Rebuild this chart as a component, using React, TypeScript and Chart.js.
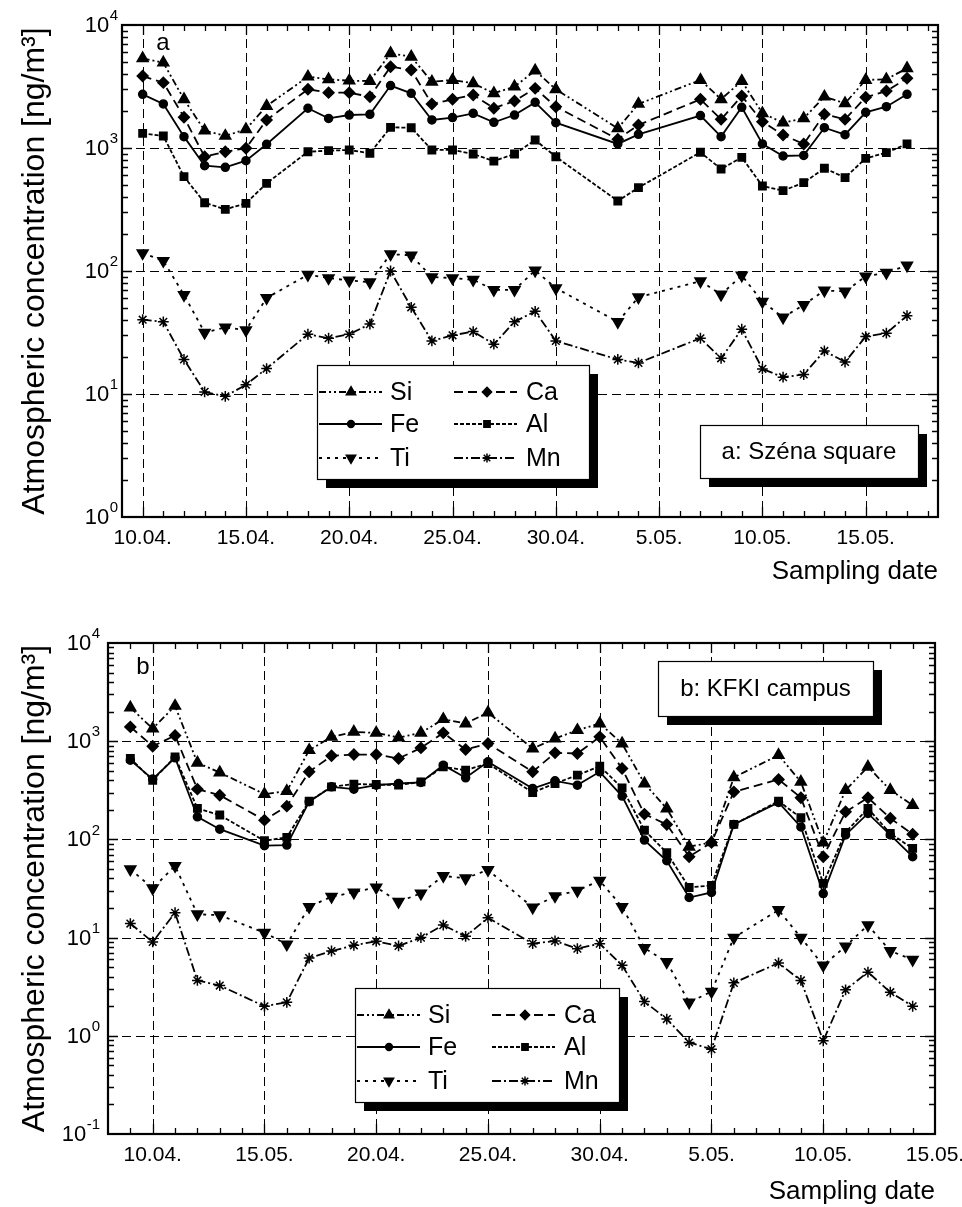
import React, { useEffect, useRef } from 'react';
import { Chart, registerables } from 'chart.js';
import { drawPoint } from 'chart.js/helpers';

Chart.register(...registerables);

const FONT = "'Liberation Sans', Arial, Helvetica, sans-serif";

const ELEMENTS = ['Si', 'Ca', 'Fe', 'Al', 'Ti', 'Mn'];

// ---------- Panel a: Széna square (day 0 = 10.04.) ----------
const daysA = [0, 1, 2, 3, 4, 5, 6, 8, 9, 10, 11, 12, 13, 14, 15, 16, 17, 18, 19, 20, 23, 24, 27, 28, 29, 30, 31, 32, 33, 34, 35, 36, 37];
const siA = [5360, 4940, 2490, 1384, 1253, 1419, 2195, 3800, 3617, 3524, 3506, 5890, 5520, 3457, 3573, 3357, 2785, 3155, 4257, 3000, 1445, 2280, 3573, 2490, 3506, 1914, 1608, 1741, 2612, 2307, 3573, 3617, 4448];
const caA = [3846, 3398, 1778, 849, 933, 994, 1691, 3000, 2818, 2818, 2612, 4580, 4305, 2280, 2490, 2699, 2105, 2411, 3055, 2168, 1178, 1537, 2490, 1710, 2648, 1636, 1277, 1079, 1878, 1710, 2584, 2903, 3687];
const feA = [2731, 2280, 1237, 718, 697, 789, 1072, 2105, 1741, 1854, 1878, 3217, 2785, 1691, 1766, 1914, 1617, 1854, 2350, 1608, 1079, 1292, 1834, 1237, 2143, 1079, 861, 871, 1462, 1283, 1950, 2168, 2731];
const alA = [1316, 1253, 585, 359, 317, 355, 516, 933, 951, 964, 906, 1472, 1462, 964, 964, 893, 783, 893, 1161, 849, 371, 476, 923, 675, 840, 491, 450, 523, 684, 575, 824, 916, 1079];
const tiA = [140, 121, 64, 31.6, 34.8, 33.1, 60.4, 93.3, 87.6, 83.9, 81.2, 137, 134, 89.3, 87.6, 84.9, 70.3, 70.3, 101, 72.6, 38.6, 61.2, 82.8, 64.4, 92.1, 56.4, 42.0, 53.0, 69.5, 68.1, 90.4, 96.9, 111];
const mnA = [40.2, 38.6, 19.1, 10.4, 9.57, 11.9, 16.1, 30.6, 28.4, 30.6, 37.0, 100, 50.7, 27.0, 30.0, 32.2, 25.4, 38.6, 47.0, 27.0, 19.1, 17.9, 28.4, 19.5, 33.6, 16.0, 13.7, 14.4, 22.4, 18.2, 29.3, 31.2, 43.3];

// ---------- Panel b: KFKI campus (day 0 = 10.04.) ----------
const daysB = [-1, 0, 1, 2, 3, 5, 6, 7, 8, 9, 10, 11, 12, 13, 14, 15, 17, 18, 19, 20, 21, 22, 23, 24, 25, 26, 28, 29, 30, 31, 32, 33, 34];
const siB = [2198, 1345, 2286, 603, 480, 289, 310, 810, 1107, 1244, 1215, 1090, 1215, 1675, 1513, 1958, 842, 1065, 1294, 1513, 947, 371, 206, 84.2, 93.1, 428, 721, 385, 92.5, 318, 548, 318, 223];
const caB = [1399, 889, 1142, 325, 282, 157, 218, 488, 710, 731, 731, 667, 855, 1215, 822, 947, 488, 761, 749, 1107, 527, 181, 142, 66.7, 93, 305, 408, 266, 66.7, 191, 266, 164, 113];
const feB = [641, 411, 678, 170, 127, 86.3, 87.5, 242, 343, 325, 357, 371, 380, 570, 424, 617, 330, 395, 357, 488, 276, 98.4, 60.6, 25.6, 28.8, 142, 238, 134, 28.1, 111, 184, 111, 66.7];
const alB = [667, 400, 693, 207, 177, 96.8, 105, 245, 343, 366, 362, 357, 385, 548, 507, 593, 300, 371, 451, 557, 335, 124, 73.1, 32.4, 34, 142, 245, 166, 35.6, 118, 207, 115, 81];
const tiB = [49.7, 31.8, 53.7, 17.3, 16.9, 11.2, 8.55, 20.6, 26.1, 28.9, 32.5, 23.2, 28.2, 42.5, 40.2, 48.9, 20.3, 26.5, 30.1, 38.0, 20.6, 7.84, 5.64, 2.19, 2.82, 10, 19.1, 10, 5.22, 8.15, 13.4, 7.3, 5.96];
const mnB = [13.9, 9.03, 17.9, 3.66, 3.25, 2.0, 2.19, 6.19, 7.3, 8.35, 9.17, 8.22, 10, 13.4, 10.3, 15.9, 8.68, 9.24, 7.72, 8.68, 5.22, 2.23, 1.48, 0.855, 0.73, 3.46, 5.51, 3.66, 0.89, 2.94, 4.45, 2.78, 2.0];

// ---------- Axis ticks ----------
const xTickDays = [0, 5, 10, 15, 20, 25, 30, 35];
const xLabelsA = ['10.04.', '15.04.', '20.04.', '25.04.', '30.04.', '5.05.', '10.05.', '15.05.'];
const xLabelsB = ['10.04.', '15.05.', '20.04.', '25.04.', '30.04.', '5.05.', '10.05.', '15.05.'];
const yDecadesA = [1, 10, 100, 1000, 10000];
const yDecadesB = [0.1, 1, 10, 100, 1000, 10000];

const STYLE: Record<string, any> = {
  Si: { dash: [7, 3, 2, 3, 2, 3], point: 'triangle', rot: 0, r: 6.3 },
  Ca: { dash: [9, 5], point: 'rectRot', rot: 0, r: 5.4 },
  Fe: { dash: [], point: 'circle', rot: 0, r: 4 },
  Al: { dash: [4, 2], point: 'rect', rot: 0, r: 5.2 },
  Ti: { dash: [3, 5], point: 'triangle', rot: 180, r: 6.3 },
  Mn: { dash: [9, 3, 2, 3], point: 'star', rot: 0, r: 5.4 },
};

const panelA = {
  days: daysA, series: [siA, caA, feA, alA, tiA, mnA],
  xMin: -1, xMax: 38.5, yMin: 1, yMax: 10000, xLabels: xLabelsA, yTicks: yDecadesA,
  height: 590, padTop: 25, padRight: 24, yWidth: 122, yTickPad: 4, xTitlePad: 3,
  legend: { x: 317, y: 365, w: 272, h: 114 },
  note: { x: 700, y: 425, w: 218, h: 53, text: 'a: Széna square' },
  letter: { x: 163, y: 43, text: 'a' },
};

const panelB = {
  days: daysB, series: [siB, caB, feB, alB, tiB, mnB],
  xMin: -2, xMax: 35, yMin: 0.1, yMax: 10000, xLabels: xLabelsB, yTicks: yDecadesB,
  height: 617, padTop: 53, padRight: 27, yWidth: 108, yTickPad: 8, xTitlePad: 0,
  legend: { x: 355, y: 398, w: 264, h: 114 },
  note: { x: 658, y: 71, w: 215, h: 55, text: 'b: KFKI campus' },
  letter: { x: 143, y: 77, text: 'b' },
};

const decorPlugin = {
  id: 'decor',
  beforeDatasetsDraw(chart: any, _args: any, opts: any) {
    const { ctx, chartArea: a, scales } = chart;
    const x = scales.x, y = scales.y;
    ctx.save();
    ctx.strokeStyle = '#000';
    ctx.lineWidth = 1;
    ctx.setLineDash([9, 5]);
    for (const v of opts.xGrid) {
      const px = Math.round(x.getPixelForValue(v)) + 0.5;
      if (px <= a.left + 1 || px >= a.right - 1) continue;
      ctx.beginPath(); ctx.moveTo(px, a.top); ctx.lineTo(px, a.bottom); ctx.stroke();
    }
    for (const v of opts.yGrid) {
      const py = Math.round(y.getPixelForValue(v)) + 0.5;
      if (py <= a.top + 1 || py >= a.bottom - 1) continue;
      ctx.beginPath(); ctx.moveTo(a.left, py); ctx.lineTo(a.right, py); ctx.stroke();
    }
    ctx.restore();
  },
  afterDatasetsDraw(chart: any, _args: any, opts: any) {
    const { ctx, chartArea: a, scales } = chart;
    const x = scales.x, y = scales.y;
    ctx.save();
    ctx.strokeStyle = '#000';
    ctx.fillStyle = '#000';
    ctx.setLineDash([]);
    ctx.lineWidth = 1.3;
    // x ticks (inward, top and bottom)
    for (let d = Math.ceil(x.min); d <= Math.floor(x.max); d++) {
      const px = Math.round(x.getPixelForValue(d)) + 0.5;
      if (px <= a.left + 1 || px >= a.right - 1) continue;
      const len = d % 5 === 0 ? 10 : 6;
      ctx.beginPath();
      ctx.moveTo(px, a.bottom); ctx.lineTo(px, a.bottom - len);
      ctx.moveTo(px, a.top); ctx.lineTo(px, a.top + len);
      ctx.stroke();
    }
    // y ticks (log minor)
    const e0 = Math.round(Math.log10(y.min));
    const e1 = Math.round(Math.log10(y.max));
    for (let e = e0; e < e1; e++) {
      for (let m = 1; m <= 9; m++) {
        const v = m * Math.pow(10, e);
        const py = Math.round(y.getPixelForValue(v)) + 0.5;
        if (py <= a.top + 1 || py >= a.bottom - 1) continue;
        const len = m === 1 ? 10 : 6;
        ctx.beginPath();
        ctx.moveTo(a.left, py); ctx.lineTo(a.left + len, py);
        ctx.moveTo(a.right, py); ctx.lineTo(a.right - len, py);
        ctx.stroke();
      }
    }
    // frame
    ctx.lineWidth = 2.2;
    ctx.strokeRect(a.left, a.top, a.right - a.left, a.bottom - a.top);

    // y tick labels: 10 with raised exponent
    for (const v of opts.yGrid) {
      const py = y.getPixelForValue(v);
      const exp = String(Math.round(Math.log10(v)));
      ctx.textBaseline = 'middle';
      ctx.textAlign = 'left';
      ctx.font = `15px ${FONT}`;
      const we = ctx.measureText(exp).width;
      const xEnd = a.left - opts.yTickPad;
      ctx.fillText(exp, xEnd - we, py - 9);
      ctx.font = `22px ${FONT}`;
      ctx.textAlign = 'right';
      ctx.fillText('10', xEnd - we - 0.5, py + 1);
    }

    // letter
    ctx.font = `24px ${FONT}`;
    ctx.textBaseline = 'middle';
    ctx.textAlign = 'center';
    ctx.fillText(opts.letter.text, opts.letter.x, opts.letter.y);

    // note box
    const n = opts.note;
    ctx.fillStyle = '#000';
    ctx.fillRect(n.x + 9, n.y + 9, n.w, n.h);
    ctx.fillStyle = '#fff';
    ctx.fillRect(n.x, n.y, n.w, n.h);
    ctx.lineWidth = 1.2;
    ctx.strokeRect(n.x + 0.5, n.y + 0.5, n.w, n.h);
    ctx.fillStyle = '#000';
    ctx.fillText(n.text, n.x + n.w / 2, n.y + n.h / 2 + 1);

    // legend
    const L = opts.legend;
    ctx.fillRect(L.x + 9, L.y + 9, L.w, L.h);
    ctx.fillStyle = '#fff';
    ctx.fillRect(L.x, L.y, L.w, L.h);
    ctx.strokeRect(L.x + 0.5, L.y + 0.5, L.w, L.h);
    const rows = [27, 59, 93];
    const cols = [
      { l0: 2, l1: 65, m: 34, t: 73 },
      { l0: 137, l1: 200, m: 170, t: 209 },
    ];
    chart.data.datasets.forEach((ds: any, i: number) => {
      const c = cols[i % 2];
      const ry = L.y + rows[Math.floor(i / 2)];
      ctx.strokeStyle = '#000';
      ctx.fillStyle = '#000';
      ctx.lineWidth = ds.borderWidth;
      ctx.setLineDash(ds.borderDash || []);
      ctx.beginPath();
      ctx.moveTo(L.x + c.l0, ry); ctx.lineTo(L.x + c.l1, ry);
      ctx.stroke();
      ctx.setLineDash([]);
      ctx.lineWidth = ds.pointBorderWidth;
      drawPoint(ctx, { pointStyle: ds.pointStyle, rotation: ds.pointRotation, radius: ds.pointRadius * 0.85, borderWidth: ds.pointBorderWidth } as any, L.x + c.m, ry);
      ctx.textAlign = 'left';
      ctx.textBaseline = 'middle';
      ctx.font = `25px ${FONT}`;
      ctx.fillText(ds.label, L.x + c.t, ry + 1);
    });
    ctx.restore();
  },
};

function buildConfig(p: any): any {
  const datasets = ELEMENTS.map((el, i) => ({
    label: el,
    data: p.days.map((d: number, j: number) => ({ x: d, y: p.series[i][j] })),
    borderColor: '#000',
    backgroundColor: '#000',
    borderWidth: 1.8,
    borderDash: STYLE[el].dash,
    pointStyle: STYLE[el].point,
    pointRotation: STYLE[el].rot,
    pointRadius: STYLE[el].r,
    pointBackgroundColor: '#000',
    pointBorderColor: '#000',
    pointBorderWidth: 1.5,
    tension: 0,
    fill: false,
  }));
  return {
    type: 'line',
    data: { datasets },
    plugins: [decorPlugin],
    options: {
      responsive: false,
      animation: false,
      devicePixelRatio: 1,
      layout: { padding: { left: 0, top: p.padTop, right: p.padRight, bottom: 0 } },
      plugins: {
        legend: { display: false },
        tooltip: { enabled: false },
        decor: {
          xGrid: xTickDays,
          yGrid: p.yTicks,
          yTickPad: p.yTickPad,
          legend: p.legend,
          note: p.note,
          letter: p.letter,
        },
      },
      scales: {
        x: {
          type: 'linear',
          min: p.xMin,
          max: p.xMax,
          grid: { display: false, drawTicks: false },
          border: { display: false },
          afterBuildTicks: (s: any) => { s.ticks = xTickDays.map((v) => ({ value: v })); },
          afterFit: (s: any) => { s.height = 73; s.paddingLeft = 0; s.paddingRight = 0; },
          ticks: {
            autoSkip: false, maxRotation: 0, minRotation: 0, padding: 9, color: '#000',
            font: { family: FONT, size: 21 },
            callback: (v: number) => { const k = xTickDays.indexOf(v); return k >= 0 ? p.xLabels[k] : ''; },
          },
          title: {
            display: true, text: 'Sampling date', align: 'end', color: '#000',
            font: { family: FONT, size: 26 }, padding: { top: 0, bottom: p.xTitlePad },
          },
        },
        y: {
          type: 'logarithmic',
          min: p.yMin,
          max: p.yMax,
          grid: { display: false, drawTicks: false },
          border: { display: false },
          afterBuildTicks: (s: any) => { s.ticks = p.yTicks.map((v: number) => ({ value: v })); },
          afterFit: (s: any) => { s.width = p.yWidth; s.paddingTop = 0; s.paddingBottom = 0; },
          ticks: { display: false },
          title: {
            display: true, text: 'Atmospheric concentration [ng/m\u00B3]', color: '#000',
            font: { family: FONT, size: 32 }, padding: { top: 16, bottom: 0 },
          },
        },
      },
    },
  };
}

function Panel({ cfg, top }: { cfg: any; top: number }) {
  const ref = useRef<HTMLCanvasElement>(null);
  useEffect(() => {
    const chart = new Chart(ref.current as HTMLCanvasElement, buildConfig(cfg));
    return () => chart.destroy();
  }, [cfg]);
  return (
    <canvas
      ref={ref}
      width={962}
      height={cfg.height}
      style={{ position: 'absolute', left: 0, top, width: 962, height: cfg.height }}
    />
  );
}

export default function App() {
  return (
    <div style={{ position: 'absolute', left: 0, top: 0, width: 962, height: 1207, background: '#fff' }}>
      <Panel cfg={panelA} top={0} />
      <Panel cfg={panelB} top={590} />
    </div>
  );
}
